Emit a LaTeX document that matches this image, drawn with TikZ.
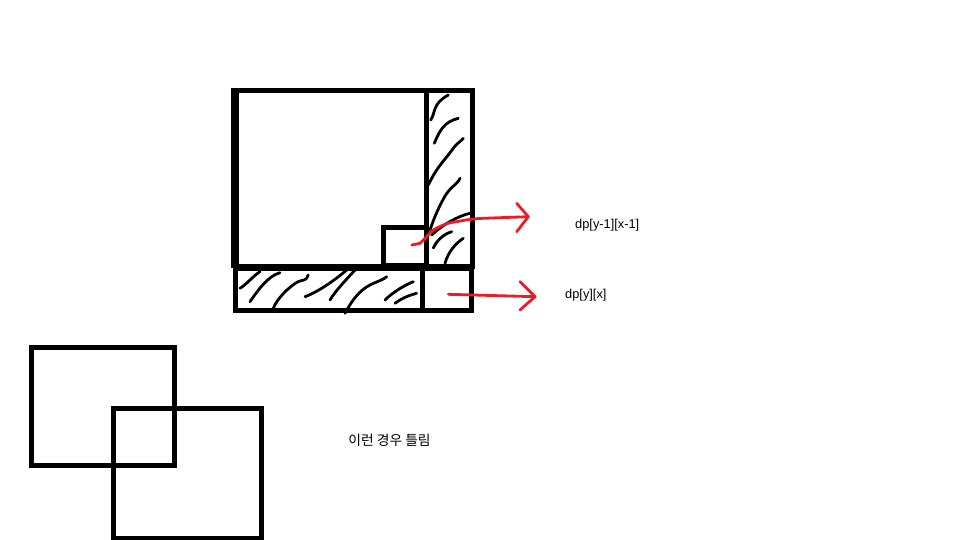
\documentclass[tikz,border=0pt]{standalone}
\usepackage{fontspec}
\setmainfont{Liberation Sans}
\newfontfamily\kor{Noto Sans CJK KR}
\definecolor{paintred}{HTML}{ED1C24}
\begin{document}
\begin{tikzpicture}[x=1pt,y=-1pt,
  box/.style={draw=black,line width=5pt},
  hatch/.style={draw=black,line width=2.8pt,line cap=round,line join=round},
  redline/.style={draw=paintred,line width=2.8pt,line cap=round,line join=round},
  lbl/.style={font=\fontsize{12.8}{14}\selectfont,inner sep=0pt,anchor=west}]
\useasboundingbox (0,0) rectangle (960,540);
% main square and strips
\draw[box] (235,91) rectangle (426,266);
\draw[draw=black,line width=8pt] (235,88.5) -- (235,268);
\draw[box] (426,91) rectangle (472,266);
\draw[box] (235,268) rectangle (422,310);
\draw[box] (422,268) rectangle (471,310);
\draw[box] (383,227) rectangle (426,265);
% hatching right strip
\draw[hatch] (430.7,120) .. controls (436,112) and (432,104) .. (448.3,95);
\draw[hatch] (434.3,143.3) .. controls (440,130) and (444,122) .. (458.3,118.3);
\draw[hatch] (428.3,185) .. controls (438,165) and (445,160) .. (452,150) .. controls (456,144) and (460,142) .. (463.3,138.3);
\draw[hatch] (430,230) .. controls (435,215) and (440,205) .. (445,196) .. controls (452,185) and (456,186) .. (460,178.3);
\draw[hatch] (431.7,235) .. controls (442,225) and (458,216) .. (470,213.3);
\draw[hatch] (433.3,248) .. controls (437,240) and (444,234) .. (451.7,231.7);
\draw[hatch] (445,263.3) .. controls (448,252) and (456,243) .. (463.3,238.3);
% hatching bottom strip
\draw[hatch] (240,288.3) .. controls (247,284) and (253,276) .. (260,271.7);
\draw[hatch] (250,301.7) .. controls (258,290) and (268,276) .. (280,272.7);
\draw[hatch] (273.3,308.3) .. controls (278,296) and (295,282) .. (300,281) .. controls (306,280) and (308,278) .. (308.3,275);
\draw[hatch] (305,296.7) .. controls (318,292) and (335,280) .. (346.7,270);
\draw[hatch] (330,300) .. controls (336,290) and (346,280) .. (355,270);
\draw[hatch] (345,313.3) .. controls (352,300) and (360,290) .. (370,285) .. controls (378,281) and (383,280) .. (386.7,276.7);
\draw[hatch] (385,300) .. controls (393,292) and (405,285) .. (413.3,281.7);
\draw[hatch] (395,303.3) .. controls (402,298) and (410,295) .. (416.7,293.3);
% red arrows
\coordinate (a1s) at (411.7,245);
\coordinate (a1e) at (528.3,216.7);
\draw[redline] (a1s) -- (420,243.3) .. controls (426,238) and (430,232) .. (433.3,230)
  .. controls (442,225) and (450,222) .. (456.7,221.7)
  .. controls (470,219) and (478,218.5) .. (483.3,218.3) -- (a1e);
\draw[redline] (516.7,203.3) -- (a1e) -- (516.7,231.7);
\coordinate (a2s) at (448.3,294.3);
\coordinate (a2e) at (535,296.7);
\draw[redline] (a2s) -- (a2e);
\draw[redline] (520,281.7) -- (a2e) -- (520,310);
% labels
\node[lbl] (l1) at (575,225) {dp[y-1][x-1]};
\node[lbl] (l2) at (565,295) {dp[y][x]};
% overlapping squares
\draw[box] (31,347.5) rectangle (174,465);
\draw[box] (113,408) rectangle (261,538);
\node[font=\kor\fontsize{13.8}{15}\selectfont,inner sep=0pt] (k) at (389.5,440) {이런 경우 틀림};
\end{tikzpicture}
\end{document}
